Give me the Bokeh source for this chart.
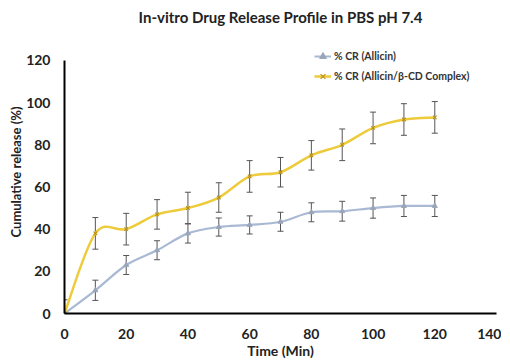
import numpy as np
from bokeh.plotting import figure
from bokeh.models import (ColumnDataSource, Whisker, TeeHead, Legend, LegendItem,
                          Title, Range1d, FixedTicker)
from bokeh.embed import file_html
from bokeh.resources import INLINE

# ---- data ----
time_min = [0, 10, 20, 30, 40, 50, 60, 70, 80, 90, 100, 110, 120]
allicin = [0, 11, 23, 30, 38, 41, 42, 43.5, 48, 48.5, 50, 51, 51]
allicin_err = [0, 4.8, 4.5, 4.5, 4.6, 4.3, 4.3, 4.5, 4.5, 4.7, 4.8, 5, 5]
complex_cr = [0, 38, 40, 47, 50, 55, 65, 67, 75, 80, 88, 92, 93]
complex_err = [6.5, 7.5, 7.5, 7, 7.5, 7, 7.5, 7, 7, 7.5, 7.5, 7.5, 7.5]
x_ticks = [0, 20, 40, 60, 80, 100, 120, 140]
y_ticks = [0, 20, 40, 60, 80, 100, 120]

title_text = "In-vitro Drug Release Profile in PBS pH 7.4"
label_allicin = "% CR (Allicin)"
label_complex = "% CR (Allicin/β-CD Complex)"

FONT = "Lato"
BLUE = "#A9B9D3"
YELLOW = "#EDCB3A"
ERR = "#555555"
TXT = "#222222"

p = figure(frame_width=432, frame_height=283, output_backend="svg", toolbar_location=None,
           x_range=Range1d(0, 140), y_range=Range1d(0, 134.2),
           min_border_left=0, min_border_right=5, min_border_top=0, min_border_bottom=0)
p.outline_line_color = None
p.grid.visible = False
p.background_fill_color = "white"

# title
p.title.text = title_text
p.title.align = "center"
p.title.text_font = FONT
p.title.text_font_size = "15px"
p.title.text_font_style = "bold"
p.title.text_color = TXT

for ax in (p.xaxis[0], p.yaxis[0]):
    ax.axis_line_color = "black"
    ax.axis_line_width = 2
    ax.major_tick_line_color = None
    ax.minor_tick_line_color = None
    ax.major_tick_out = 0
    ax.major_tick_in = 0
    ax.major_label_text_font = FONT
    ax.major_label_text_font_size = "14px"
    ax.major_label_text_font_style = "bold"
    ax.major_label_text_color = TXT

p.xaxis.bounds = (0, 140)
p.yaxis.bounds = (0, 120)
p.xaxis.ticker = FixedTicker(ticks=x_ticks)
p.yaxis.ticker = FixedTicker(ticks=y_ticks)
p.xaxis.major_label_standoff = 15
p.yaxis.major_label_standoff = 14

p.xaxis.axis_label = "Time (Min)"
p.xaxis.axis_label_text_font = FONT
p.xaxis.axis_label_text_font_size = "14px"
p.xaxis.axis_label_text_font_style = "bold"
p.xaxis.axis_label_text_color = TXT
p.xaxis.axis_label_standoff = 0

ylab = Title(text="Cumulative release (%)", align="center", text_font=FONT,
             text_font_size="13px", text_font_style="bold", text_color=TXT,
             offset=24, standoff=0)
p.add_layout(ylab, "left")
# small spacer to the left of the y label
p.add_layout(Title(text=" ", text_font_size="3px", standoff=0), "left")


def smooth_segments(xs, ys):
    xs = np.asarray(xs, float)
    ys = np.asarray(ys, float)
    n = len(xs)
    xp = np.concatenate([[xs[0]], xs, [xs[-1]]])
    yp = np.concatenate([[ys[0]], ys, [ys[-1]]])
    i = np.arange(n - 1)
    cx0 = xs[:-1] + (xp[i + 2] - xp[i]) / 6.0
    cy0 = ys[:-1] + (yp[i + 2] - yp[i]) / 6.0
    cx1 = xs[1:] - (xp[i + 3] - xp[i + 1]) / 6.0
    cy1 = ys[1:] - (yp[i + 3] - yp[i + 1]) / 6.0
    return dict(x0=xs[:-1], y0=ys[:-1], x1=xs[1:], y1=ys[1:],
                cx0=cx0, cy0=cy0, cx1=cx1, cy1=cy1)


src_a = ColumnDataSource(dict(x=time_min, y=allicin,
                              lo=[v - e for v, e in zip(allicin, allicin_err)],
                              hi=[v + e for v, e in zip(allicin, allicin_err)]))
src_c = ColumnDataSource(dict(x=time_min, y=complex_cr,
                              lo=[v - e for v, e in zip(complex_cr, complex_err)],
                              hi=[v + e for v, e in zip(complex_cr, complex_err)]))

seg_a = ColumnDataSource(smooth_segments(time_min, allicin))
seg_c = ColumnDataSource(smooth_segments(time_min, complex_cr))

p.bezier(x0="x0", y0="y0", x1="x1", y1="y1", cx0="cx0", cy0="cy0", cx1="cx1", cy1="cy1",
         source=seg_a, line_color=BLUE, line_width=2.2)
p.bezier(x0="x0", y0="y0", x1="x1", y1="y1", cx0="cx0", cy0="cy0", cx1="cx1", cy1="cy1",
         source=seg_c, line_color=YELLOW, line_width=2.5)

for src in (src_a, src_c):
    w = Whisker(base="x", lower="lo", upper="hi", source=src,
                line_color=ERR, line_width=1,
                upper_head=TeeHead(size=6, line_color=ERR, line_width=1),
                lower_head=TeeHead(size=6, line_color=ERR, line_width=1))
    p.add_layout(w)

m_a = p.scatter("x", "y", source=src_a, marker="triangle", size=5,
                fill_color="#9AA6B8", line_color="#9AA6B8")
m_c = p.scatter("x", "y", source=src_c, marker="x", size=5,
                line_color="#B8901A", line_width=1.2)

# legend proxies (a single NaN row draws nothing in the plot)
proxy_a = p.line(x=[np.nan], y=[np.nan], line_color=BLUE, line_width=2)
proxy_c = p.line(x=[np.nan], y=[np.nan], line_color=YELLOW, line_width=2.5)

legend = Legend(items=[LegendItem(label=label_allicin, renderers=[proxy_a, m_a]),
                       LegendItem(label=label_complex, renderers=[proxy_c, m_c])],
                location=(250, 227), border_line_color=None, background_fill_alpha=0,
                padding=0, margin=0, spacing=0, glyph_width=17, glyph_height=20,
                label_height=20, label_standoff=3,
                label_text_font=FONT, label_text_font_size="10.5px",
                label_text_font_style="bold", label_text_color="#333333")
p.add_layout(legend, "center")

open("out.html", "w").write(file_html(p, INLINE))
